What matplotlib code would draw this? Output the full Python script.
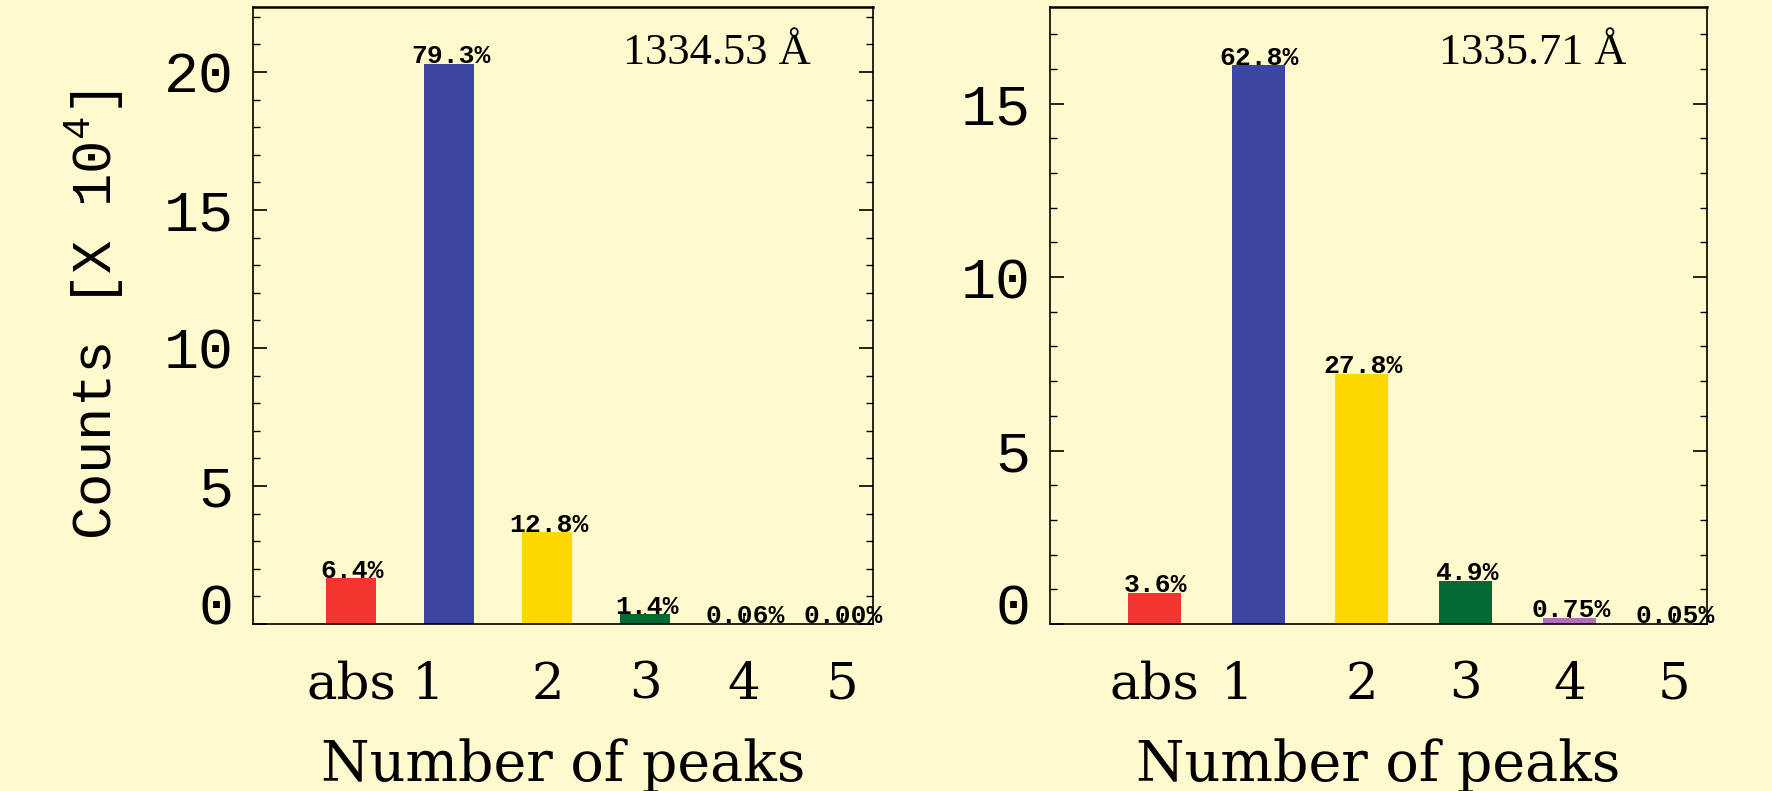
import numpy as np
import matplotlib.pyplot as plt
import matplotlib.transforms as mtransforms
from matplotlib.ticker import MultipleLocator

plt.rcParams['mathtext.fontset'] = 'custom'
plt.rcParams['mathtext.rm'] = 'Liberation Mono'

##########################################################################################
## data (counts in units of 10^4) ########
##########################################################################################
peak_labels = ['abs', '1', '2', '3', '4', '5']
bar_colors = ['#f2352e', '#3c46a0', '#ffd800', '#006a32', '#b46eb4', '#6a6a6a']

counts_1334 = [1.65, 20.3, 3.32, 0.35, 0.015, 0.001]
pct_1334 = ['6.4%', '79.3%', '12.8%', '1.4%', '0.06%', '0.00%']

counts_1335 = [0.89, 16.1, 7.2, 1.25, 0.18, 0.013]
pct_1335 = ['3.6%', '62.8%', '27.8%', '4.9%', '0.75%', '0.05%']

bg = '#fffacd'
mono = 'Liberation Mono'
serif = 'DejaVu Serif'


def shift(text, dx, dy, fig):
    text.set_transform(text.get_transform() +
                       mtransforms.ScaledTranslation(dx / 72, dy / 72, fig.dpi_scale_trans))


def draw_panel(fig, rect, counts, pcts, title, title_x, ymax, ylabel=None):
    ax = fig.add_axes(rect)
    ax.set_facecolor(bg)
    x = np.arange(len(counts))
    ax.bar(x, counts, width=0.51, color=bar_colors, zorder=2)
    ax.set_xlim(-1.0, 5.32)
    ax.set_ylim(0, ymax)

    # percentage labels sitting on top of each bar
    for xi, c, p in zip(x, counts, pcts):
        ax.annotate(p, xy=(xi, c), xytext=(1, -3), textcoords='offset points',
                    ha='center', va='bottom', fontsize=19, fontweight='bold',
                    family=mono, zorder=3)

    ax.text(title_x, 0.925, title, transform=ax.transAxes, ha='center', va='center',
            fontsize=32, family='Liberation Serif')

    for s in ax.spines.values():
        s.set_linewidth(1.2)
    ax.spines['top'].set_linewidth(1.8)

    ax.set_xticks(x)
    ax.set_xticklabels(peak_labels, family=serif, fontsize=37)
    ax.tick_params(axis='x', direction='in', length=8, width=1.2, pad=26, top=False)
    # the "1" label sits a bit to the left of its bar
    shift(ax.get_xticklabels()[1], -15, 0, fig)

    ax.yaxis.set_major_locator(MultipleLocator(5))
    ax.yaxis.set_minor_locator(MultipleLocator(1))
    ax.tick_params(axis='y', which='major', direction='in', length=10, width=1.2,
                   left=True, right=True, labelsize=42, pad=14)
    ax.tick_params(axis='y', which='minor', direction='in', length=5, width=1.0,
                   left=True, right=True)
    for loc, tick in zip(ax.yaxis.get_majorticklocs(), ax.yaxis.get_major_ticks()):
        tick.label1.set_family(mono)
        if loc == 0:
            # zero label is lifted off the bottom axis
            shift(tick.label1, 0, 15, fig)

    ax.set_xlabel('Number of peaks', family=serif, fontsize=40, labelpad=21)
    if ylabel:
        ax.set_ylabel(ylabel, family=mono, fontsize=40, labelpad=27)
    return ax


fig = plt.figure(figsize=(17.72, 7.91), dpi=100, facecolor=bg)
draw_panel(fig, [0.1428, 0.2111, 0.3499, 0.780], counts_1334, pct_1334,
           '1334.53 Å', 0.748, 22.35, ylabel=r'Counts [X 10$^{4}$]')
draw_panel(fig, [0.5926, 0.2111, 0.3708, 0.780], counts_1335, pct_1335,
           '1335.71 Å', 0.735, 17.78)
fig.savefig('out.png', dpi=100, facecolor=bg)
